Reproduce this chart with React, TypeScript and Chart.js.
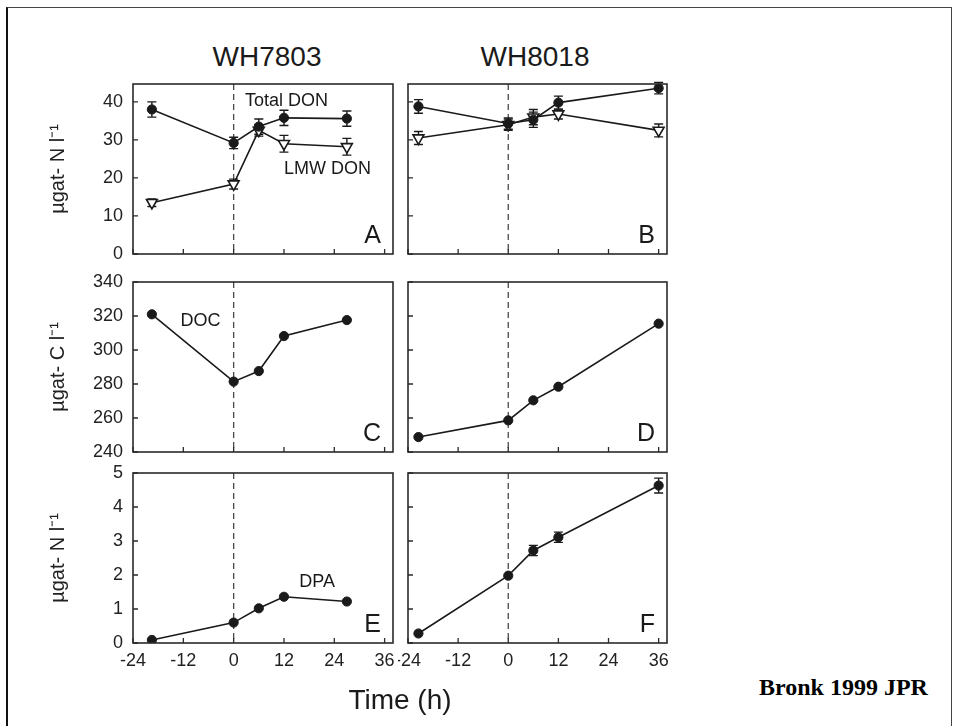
import React, { useEffect, useRef } from 'react';
import { Chart, registerables } from 'chart.js';

Chart.register(...registerables);

// ---------------- data ----------------
const TIME_WH7803 = [-19.5, 0, 6, 12, 27];
const TIME_WH8018 = [-21.5, 0, 6, 12, 36];

const TOTAL_DON_WH7803 = [38.0, 29.2, 33.5, 35.8, 35.6];
const TOTAL_DON_ERR_WH7803 = [2.0, 1.5, 2.0, 2.0, 2.0];
const LMW_DON_WH7803 = [13.5, 18.4, 32.5, 29.0, 28.2];
const LMW_DON_ERR_WH7803 = [1.0, 1.3, 1.5, 2.2, 2.2];

const TOTAL_DON_WH8018 = [38.8, 34.3, 35.3, 39.8, 43.6];
const TOTAL_DON_ERR_WH8018 = [1.8, 1.5, 2.0, 1.7, 1.5];
const LMW_DON_WH8018 = [30.5, 34.0, 36.0, 36.8, 32.5];
const LMW_DON_ERR_WH8018 = [1.7, 1.5, 2.0, 1.3, 1.7];

const DOC_WH7803 = [321, 281.4, 287.6, 308.2, 317.6];
const DOC_WH8018 = [248.8, 258.6, 270.4, 278.4, 315.5];

const DPA_WH7803 = [0.09, 0.6, 1.02, 1.36, 1.22];
const DPA_WH8018 = [0.28, 1.98, 2.72, 3.11, 4.63];
const DPA_ERR_WH8018 = [0, 0, 0.15, 0.15, 0.22];

const TIME_TICKS = [-24, -12, 0, 12, 24, 36];
const DON_TICKS = [0, 10, 20, 30, 40];
const DOC_TICKS = [240, 260, 280, 300, 320, 340];
const DPA_TICKS = [0, 1, 2, 3, 4, 5];

const TIME_RANGE = [-24, 38];
const DON_RANGE = [0, 44.7];
const DOC_RANGE = [240, 340];
const DPA_RANGE = [0, 5];
const REFERENCE_TIME = 0;

const COLUMN_TITLES = ['WH7803', 'WH8018'];
const N_TITLE = 'µgat- N l⁻¹';
const C_TITLE = 'µgat- C l⁻¹';

// ---------------- style / layout ----------------
const FAMILY = '"Liberation Sans", Arial, Helvetica, sans-serif';
const INK = '#1a1a1a';
const PAD = 14;
const X_AXIS_H = 30;
const TICK = 5;
const CAP = 4.5;
const LEFT_COL = [133, 393];
const RIGHT_COL = [408, 667];
const ROWS = [[84, 254], [282, 452], [473, 643]];

type Series = { label: string; x: number[]; y: number[]; err?: number[]; marker: 'filled' | 'open' };
type Note = { text: string; x: number; y: number };
type PanelSpec = {
  letter: string;
  series: Series[];
  yTicks: number[];
  yRange: number[];
  yTitle?: string;
  showYLabels: boolean;
  showXLabels: boolean;
  notes: Note[];
  col: number[];
  row: number[];
};

const panelDecor = {
  id: 'panelDecor',
  beforeDatasetsDraw(chart: any) {
    const { ctx, chartArea: a } = chart;
    const xs = chart.scales.x;
    const ys = chart.scales.y;
    ctx.save();
    ctx.strokeStyle = '#4a4a4a';
    ctx.lineWidth = 1.3;
    ctx.setLineDash([6, 4]);
    const px = xs.getPixelForValue(REFERENCE_TIME);
    ctx.beginPath();
    ctx.moveTo(px, a.top);
    ctx.lineTo(px, a.bottom);
    ctx.stroke();
    ctx.setLineDash([]);
    ctx.strokeStyle = INK;
    ctx.lineWidth = 1.4;
    chart.data.datasets.forEach((ds: any) => {
      const err = ds.errorBars as number[] | undefined;
      if (!err) return;
      ds.data.forEach((pt: any, i: number) => {
        const e = err[i];
        if (!e) return;
        const cx = xs.getPixelForValue(pt.x);
        const y1 = ys.getPixelForValue(pt.y - e);
        const y2 = ys.getPixelForValue(pt.y + e);
        ctx.beginPath();
        ctx.moveTo(cx, y1);
        ctx.lineTo(cx, y2);
        ctx.moveTo(cx - CAP, y1);
        ctx.lineTo(cx + CAP, y1);
        ctx.moveTo(cx - CAP, y2);
        ctx.lineTo(cx + CAP, y2);
        ctx.stroke();
      });
    });
    ctx.restore();
  },
  afterDraw(chart: any, _args: any, opts: any) {
    const { ctx, chartArea: a } = chart;
    const xs = chart.scales.x;
    const ys = chart.scales.y;
    ctx.save();
    // frame
    ctx.strokeStyle = '#2a2a2a';
    ctx.lineWidth = 1.6;
    ctx.strokeRect(a.left, a.top, a.right - a.left, a.bottom - a.top);
    // inward ticks
    ctx.lineWidth = 1.3;
    ctx.beginPath();
    xs.ticks.forEach((t: any) => {
      const p = xs.getPixelForValue(t.value);
      ctx.moveTo(p, a.bottom);
      ctx.lineTo(p, a.bottom - TICK);
    });
    ys.ticks.forEach((t: any) => {
      const p = ys.getPixelForValue(t.value);
      ctx.moveTo(a.left, p);
      ctx.lineTo(a.left + TICK, p);
    });
    ctx.stroke();
    // notes
    ctx.fillStyle = INK;
    ctx.font = `18px ${FAMILY}`;
    ctx.textAlign = 'center';
    ctx.textBaseline = 'middle';
    (opts.notes || []).forEach((n: Note) => {
      ctx.fillText(n.text, xs.getPixelForValue(n.x), ys.getPixelForValue(n.y));
    });
    // panel letter
    ctx.font = `25px ${FAMILY}`;
    ctx.textAlign = 'right';
    ctx.textBaseline = 'alphabetic';
    ctx.fillText(opts.letter, a.right - 12, a.bottom - 11);
    ctx.restore();
  },
};

function geometry(p: PanelSpec) {
  const yW = p.showYLabels ? 90 : 10;
  const xH = p.showXLabels ? X_AXIS_H : 0;
  const left = p.col[0] - yW;
  const top = p.row[0] - PAD;
  const width = p.col[1] + PAD - left;
  const height = p.row[1] + xH + PAD - top;
  return { yW, xH, left, top, width, height };
}

function makeConfig(p: PanelSpec): any {
  const g = geometry(p);
  const tickFont = { family: FAMILY, size: 18 };
  return {
    type: 'scatter',
    data: {
      datasets: p.series.map((s) => ({
        label: s.label,
        data: s.x.map((x, i) => ({ x, y: s.y[i] })),
        showLine: true,
        borderColor: INK,
        borderWidth: 1.6,
        pointStyle: s.marker === 'open' ? 'triangle' : 'circle',
        pointRotation: s.marker === 'open' ? 180 : 0,
        pointRadius: s.marker === 'open' ? 6.3 : 4.6,
        pointBackgroundColor: s.marker === 'open' ? '#ffffff' : INK,
        pointBorderColor: INK,
        pointBorderWidth: s.marker === 'open' ? 1.6 : 1,
        errorBars: s.err,
      })),
    },
    options: {
      responsive: false,
      animation: false,
      events: [],
      layout: { padding: { top: PAD, right: PAD, bottom: PAD, left: 0 } },
      plugins: {
        legend: { display: false },
        tooltip: { enabled: false },
        panelDecor: { letter: p.letter, notes: p.notes },
      },
      scales: {
        x: {
          type: 'linear',
          position: 'bottom',
          min: TIME_RANGE[0],
          max: TIME_RANGE[1],
          grid: { display: false, drawTicks: false },
          border: { display: false },
          ticks: {
            display: p.showXLabels,
            padding: 7,
            font: tickFont,
            color: '#222',
            autoSkip: false,
            maxRotation: 0,
            includeBounds: false,
            callback: (v: number) => String(v),
          },
          afterBuildTicks: (s: any) => {
            s.ticks = TIME_TICKS.map((value) => ({ value }));
          },
          afterFit: (s: any) => {
            s.height = g.xH;
            s.paddingLeft = 0;
            s.paddingRight = 0;
            s.paddingTop = 0;
            s.paddingBottom = 0;
          },
        },
        y: {
          type: 'linear',
          position: 'left',
          min: p.yRange[0],
          max: p.yRange[1],
          grid: { display: false, drawTicks: false },
          border: { display: false },
          title: {
            display: !!p.yTitle,
            text: p.yTitle || '',
            color: '#222',
            font: { family: FAMILY, size: 20 },
            padding: { top: 3, bottom: 0 },
          },
          ticks: {
            display: p.showYLabels,
            padding: 10,
            font: tickFont,
            color: '#222',
            autoSkip: false,
            includeBounds: false,
            callback: (v: number) => String(v),
          },
          afterBuildTicks: (s: any) => {
            s.ticks = p.yTicks.map((value) => ({ value }));
          },
          afterFit: (s: any) => {
            s.width = g.yW;
            s.paddingLeft = 0;
            s.paddingRight = 0;
            s.paddingTop = 0;
            s.paddingBottom = 0;
          },
        },
      },
    },
    plugins: [panelDecor],
  };
}

const PANELS: PanelSpec[] = [
  {
    letter: 'A',
    series: [
      { label: 'Total DON', x: TIME_WH7803, y: TOTAL_DON_WH7803, err: TOTAL_DON_ERR_WH7803, marker: 'filled' },
      { label: 'LMW DON', x: TIME_WH7803, y: LMW_DON_WH7803, err: LMW_DON_ERR_WH7803, marker: 'open' },
    ],
    yTicks: DON_TICKS,
    yRange: DON_RANGE,
    yTitle: N_TITLE,
    showYLabels: true,
    showXLabels: false,
    notes: [
      { text: 'Total DON', x: 12.6, y: 40.1 },
      { text: 'LMW DON', x: 22.4, y: 22.4 },
    ],
    col: LEFT_COL,
    row: ROWS[0],
  },
  {
    letter: 'B',
    series: [
      { label: 'Total DON', x: TIME_WH8018, y: TOTAL_DON_WH8018, err: TOTAL_DON_ERR_WH8018, marker: 'filled' },
      { label: 'LMW DON', x: TIME_WH8018, y: LMW_DON_WH8018, err: LMW_DON_ERR_WH8018, marker: 'open' },
    ],
    yTicks: DON_TICKS,
    yRange: DON_RANGE,
    showYLabels: false,
    showXLabels: false,
    notes: [],
    col: RIGHT_COL,
    row: ROWS[0],
  },
  {
    letter: 'C',
    series: [{ label: 'DOC', x: TIME_WH7803, y: DOC_WH7803, marker: 'filled' }],
    yTicks: DOC_TICKS,
    yRange: DOC_RANGE,
    yTitle: C_TITLE,
    showYLabels: true,
    showXLabels: false,
    notes: [{ text: 'DOC', x: -7.9, y: 317 }],
    col: LEFT_COL,
    row: ROWS[1],
  },
  {
    letter: 'D',
    series: [{ label: 'DOC', x: TIME_WH8018, y: DOC_WH8018, marker: 'filled' }],
    yTicks: DOC_TICKS,
    yRange: DOC_RANGE,
    showYLabels: false,
    showXLabels: false,
    notes: [],
    col: RIGHT_COL,
    row: ROWS[1],
  },
  {
    letter: 'E',
    series: [{ label: 'DPA', x: TIME_WH7803, y: DPA_WH7803, marker: 'filled' }],
    yTicks: DPA_TICKS,
    yRange: DPA_RANGE,
    yTitle: N_TITLE,
    showYLabels: true,
    showXLabels: true,
    notes: [{ text: 'DPA', x: 19.9, y: 1.8 }],
    col: LEFT_COL,
    row: ROWS[2],
  },
  {
    letter: 'F',
    series: [{ label: 'DPA', x: TIME_WH8018, y: DPA_WH8018, err: DPA_ERR_WH8018, marker: 'filled' }],
    yTicks: DPA_TICKS,
    yRange: DPA_RANGE,
    showYLabels: false,
    showXLabels: true,
    notes: [],
    col: RIGHT_COL,
    row: ROWS[2],
  },
];

function Panel({ spec }: { spec: PanelSpec }) {
  const ref = useRef<HTMLCanvasElement>(null);
  const g = geometry(spec);
  useEffect(() => {
    const chart = new Chart(ref.current as HTMLCanvasElement, makeConfig(spec));
    return () => chart.destroy();
  }, []);
  return (
    <canvas
      ref={ref}
      width={g.width}
      height={g.height}
      style={{ position: 'absolute', left: g.left, top: g.top, width: g.width, height: g.height }}
    />
  );
}

export default function App() {
  const sans = FAMILY;
  return (
    <div
      style={{
        position: 'absolute',
        left: 0,
        top: 0,
        width: 956,
        height: 726,
        overflow: 'hidden',
        background: '#ffffff',
      }}
    >
      <div
        style={{
          position: 'absolute',
          left: 6,
          top: 7,
          width: 943,
          height: 730,
          borderLeft: '2px solid #111',
          borderTop: '1px solid #444',
          borderRight: '1px solid #444',
        }}
      />
      {COLUMN_TITLES.map((t, i) => (
        <div
          key={t}
          style={{
            position: 'absolute',
            left: i === 0 ? 167 : 435,
            width: 200,
            top: 43,
            textAlign: 'center',
            fontFamily: sans,
            fontSize: 28,
            lineHeight: '28px',
            color: '#1a1a1a',
          }}
        >
          {t}
        </div>
      ))}
      {PANELS.map((p) => (
        <Panel key={p.letter} spec={p} />
      ))}
      <div
        style={{
          position: 'absolute',
          left: 300,
          width: 200,
          top: 686,
          textAlign: 'center',
          fontFamily: sans,
          fontSize: 28,
          lineHeight: '28px',
          color: '#1a1a1a',
        }}
      >
        Time (h)
      </div>
      <div
        style={{
          position: 'absolute',
          left: 759,
          top: 675,
          fontFamily: '"Liberation Serif", "Times New Roman", serif',
          fontWeight: 'bold',
          fontSize: 24,
          lineHeight: '24px',
          color: '#000',
          whiteSpace: 'nowrap',
        }}
      >
        Bronk 1999 JPR
      </div>
    </div>
  );
}
